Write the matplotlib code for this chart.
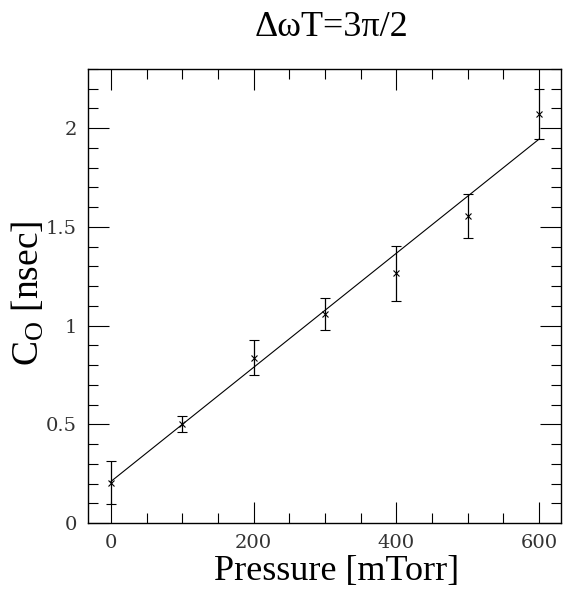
import matplotlib
matplotlib.use("Agg")
import matplotlib.pyplot as plt
from matplotlib.ticker import MultipleLocator
import numpy as np

# data
pressure = [0, 100, 200, 300, 400, 500, 600]          # mTorr
c0 = [0.204, 0.501, 0.838, 1.060, 1.265, 1.557, 2.073]  # nsec
c0_err = [0.110, 0.040, 0.090, 0.080, 0.140, 0.112, 0.128]
# fitted straight line
fit_intercept = 0.21
fit_slope = 0.00289

plt.rcParams['mathtext.fontset'] = 'custom'
plt.rcParams['mathtext.rm'] = 'Liberation Serif'
plt.rcParams['mathtext.it'] = 'Liberation Serif:italic'

fig = plt.figure(figsize=(5.63, 5.90), dpi=100)
ax = fig.add_axes([88/563, 1-523/590, (561-88)/563, (523-69)/590])

xfit = np.array([pressure[0], pressure[-1]])
ax.plot(xfit, fit_intercept + fit_slope*xfit, color='black', lw=0.8)
ax.errorbar(pressure, c0, yerr=c0_err, fmt='x', color='black', ms=4.5, mew=0.8,
            elinewidth=0.9, capsize=3.5, capthick=0.9)

ax.set_xlim(-32, 631)
ax.set_ylim(0, 2.3)
ax.xaxis.set_major_locator(MultipleLocator(200))
ax.xaxis.set_minor_locator(MultipleLocator(50))
ax.yaxis.set_major_locator(MultipleLocator(0.5))
ax.yaxis.set_minor_locator(MultipleLocator(0.1))
ax.yaxis.set_major_formatter(plt.FuncFormatter(lambda v, p: '%g' % v))
ax.tick_params(which='both', direction='in', top=True, right=True, width=0.8)
ax.tick_params(which='major', length=15, labelsize=14, pad=8)
ax.tick_params(which='minor', length=7.5)
for lab in ax.get_xticklabels() + ax.get_yticklabels():
    lab.set_family('DejaVu Serif')
    lab.set_color('#333333')
for s in ax.spines.values():
    s.set_linewidth(1.0)

fig.text(332/563, 1-36/590, 'ΔωT=3π/2', family='Liberation Serif',
         fontsize=26, ha='center', va='baseline')
fig.text(337/563, 1-580/590, 'Pressure [mTorr]', family='Liberation Serif',
         fontsize=26, ha='center', va='baseline')
fig.text(28/563, 1-293/590, r'$\mathrm{C_O}$ [nsec]', family='Liberation Serif',
         fontsize=27, rotation=90, ha='center', va='center')

fig.savefig('out.png', dpi=100)
